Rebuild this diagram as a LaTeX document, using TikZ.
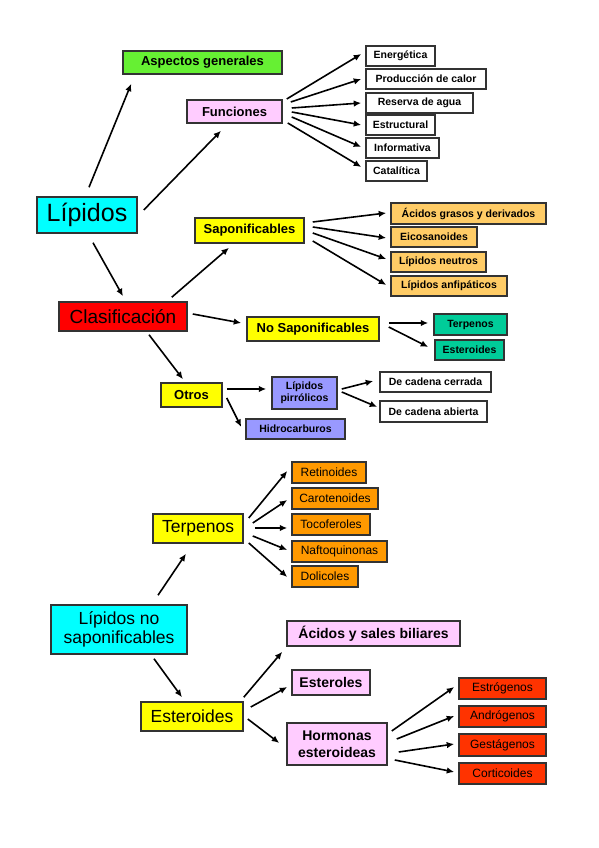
\documentclass[tikz,border=0pt]{standalone}
\usepackage{fontspec}
\setmainfont{Liberation Sans}
\usetikzlibrary{arrows.meta, positioning}
\usepackage{xcolor}

\definecolor{verde}{RGB}{102,240,51}
\definecolor{rosa}{RGB}{255,204,255}
\definecolor{cian}{RGB}{0,255,255}
\definecolor{rojo}{RGB}{255,0,0}
\definecolor{amarillo}{RGB}{255,255,0}
\definecolor{naranjaclaro}{RGB}{255,204,102}
\definecolor{turquesa}{RGB}{0,204,153}
\definecolor{lila}{RGB}{153,153,255}
\definecolor{naranja}{RGB}{255,153,0}
\definecolor{rojizo}{RGB}{255,51,0}

\begin{document}
\begin{tikzpicture}[
        x=1pt, y=1pt,
        caja/.style={rectangle, draw=black!80, line width=1.5pt, inner sep=1pt, align=center},
        chica/.style={caja, font=\fontsize{10.5}{12}\selectfont\bfseries, minimum height=20pt},
        media/.style={caja, font=\fontsize{13}{14.5}\selectfont\bfseries, minimum height=24pt},
        grande/.style={caja, font=\fontsize{17.5}{19.5}\selectfont},
        fina/.style={caja, font=\fontsize{12}{13.5}\selectfont, minimum height=21pt},
        arrow/.style={-{Latex[length=7.5pt,width=6.5pt]}, line width=1.6pt, draw=black}
    ]
    \useasboundingbox (0,0) rectangle (599,848);

    % Clasificacion general
    \node (lip) [caja, fill=cian, minimum width=100pt, minimum height=36pt, font=\fontsize{25}{27}\selectfont] at (87,633) {Lípidos};
    \node (asp) [media, fill=verde, minimum width=159pt, minimum height=23pt] at (202.5,785.5) {Aspectos generales};
    \node (fun) [media, fill=rosa, minimum width=95pt, minimum height=23pt] at (234.5,736.5) {Funciones};
    \node (cla) [caja, fill=rojo, minimum width=128pt, minimum height=29pt, font=\fontsize{19}{21}\selectfont] at (123,531.5) {Clasificación};
    \node (sap) [media, fill=amarillo, minimum width=109pt, minimum height=25pt] at (249.5,617.5) {Saponificables};
    \node (nosap) [media, fill=amarillo, minimum width=132pt] at (313,519) {No Saponificables};
    \node (otr) [media, fill=amarillo, minimum width=61pt] at (191.5,453) {Otros};
    \node (pir) [chica, fill=lila, minimum width=65pt, minimum height=32pt] at (304.5,455) {Lípidos\\pirrólicos};
    \node (hid) [chica, fill=lila, minimum width=99pt] at (295.5,419) {Hidrocarburos};

    % Funciones
    \node (ene) [chica, minimum width=69pt] at (400.5,792) {Energética};
    \node (pro) [chica, minimum width=120pt] at (426,769) {Producción de calor};
    \node (res) [chica, minimum width=107pt] at (419.5,745) {Reserva de agua};
    \node (est) [chica, minimum width=69pt] at (400.5,723) {Estructural};
    \node (inf) [chica, minimum width=73pt] at (402.5,700) {Informativa};
    \node (cat) [chica, minimum width=61pt] at (396.5,677) {Catalítica};

    % Saponificables y no saponificables
    \node (aci) [chica, fill=naranjaclaro, minimum width=155pt, minimum height=21pt] at (468.5,634.5) {Ácidos grasos y derivados};
    \node (eic) [chica, fill=naranjaclaro, minimum width=86pt] at (434,611) {Eicosanoides};
    \node (neu) [chica, fill=naranjaclaro, minimum width=95pt] at (438.5,586) {Lípidos neutros};
    \node (anf) [chica, fill=naranjaclaro, minimum width=116pt] at (449,562) {Lípidos anfipáticos};
    \node (ter) [chica, fill=turquesa, minimum width=73pt, minimum height=21pt] at (470.5,523.5) {Terpenos};
    \node (este) [chica, fill=turquesa, minimum width=69pt] at (469.5,498) {Esteroides};
    \node (cer) [chica, minimum width=111pt] at (435.5,466) {De cadena cerrada};
    \node (abi) [chica, minimum width=107pt, minimum height=21pt] at (433.5,436.5) {De cadena abierta};

    % Lipidos no saponificables
    \node (lns) [grande, fill=cian, minimum width=136pt, minimum height=49pt] at (119,218.5) {Lípidos no\\saponificables};
    \node (ter2) [grande, fill=amarillo, minimum width=90pt, minimum height=29pt] at (198,319.5) {Terpenos};
    \node (est2) [grande, fill=amarillo, minimum width=102pt, minimum height=29pt] at (192,131.5) {Esteroides};
    \node (ret) [fina, fill=naranja, minimum width=74pt] at (329,375.5) {Retinoides};
    \node (car) [fina, fill=naranja, minimum width=86pt] at (335,349.5) {Carotenoides};
    \node (toc) [fina, fill=naranja, minimum width=78pt] at (331,323.5) {Tocoferoles};
    \node (naf) [fina, fill=naranja, minimum width=95pt] at (339.5,296.5) {Naftoquinonas};
    \node (dol) [fina, fill=naranja, minimum width=66pt] at (325,271.5) {Dolicoles};
    \node (acs) [media, fill=rosa, minimum width=173pt, minimum height=25pt, font=\fontsize{14}{15.5}\selectfont\bfseries] at (373.5,214.5) {Ácidos y sales biliares};
    \node (esl) [media, fill=rosa, minimum width=78pt, minimum height=25pt, font=\fontsize{14}{15.5}\selectfont\bfseries] at (331,165.5) {Esteroles};
    \node (hor) [media, fill=rosa, minimum width=100pt, minimum height=42pt, font=\fontsize{14}{17}\selectfont\bfseries] at (337,104) {Hormonas\\esteroideas};
    \node (estr) [fina, fill=rojizo, minimum width=87pt] at (502.5,159.5) {Estrógenos};
    \node (andr) [fina, fill=rojizo, minimum width=87pt] at (502.5,131.5) {Andrógenos};
    \node (ges) [fina, fill=rojizo, minimum width=87pt, minimum height=22pt] at (502.5,103) {Gestágenos};
    \node (cor) [fina, fill=rojizo, minimum width=87pt] at (502.5,74.5) {Corticoides};

    % Flechas de Lipidos
    \draw [arrow] ([shift={(2,9)}]lip.north) -- ([shift={(9,-9)}]asp.south west);
    \draw [arrow] ([shift={(6,5)}]lip.east) -- ([shift={(-13.5,-7)}]fun.south);
    \draw [arrow] ([shift={(6,-9)}]lip.south) -- ([shift={(0,5)}]cla.north);

    % Flechas de Funciones
    \draw [arrow] ([shift={(4,12.5)}]fun.east) -- ([shift={(-4,2)}]ene.west);
    \draw [arrow] ([shift={(8,9.5)}]fun.east) -- ([shift={(-4,0)}]pro.west);
    \draw [arrow] ([shift={(9,3.5)}]fun.east) -- ([shift={(-4,0)}]res.west);
    \draw [arrow] ([shift={(9,-0.5)}]fun.east) -- ([shift={(-4,0)}]est.west);
    \draw [arrow] ([shift={(9,-5.5)}]fun.east) -- ([shift={(-4,1)}]inf.west);
    \draw [arrow] ([shift={(5,-11.5)}]fun.east) -- ([shift={(-4,4)}]cat.west);

    % Flechas de Clasificacion
    \draw [arrow] ([shift={(-16,4)}]cla.north east) -- ([shift={(-20.5,-4)}]sap.south);
    \draw [arrow] ([shift={(5,2.5)}]cla.east) -- ([shift={(-5,6)}]nosap.west);
    \draw [arrow] ([shift={(26,-3)}]cla.south) -- ([shift={(-8.5,3)}]otr.north);

    \draw [arrow] ([shift={(8,8.5)}]sap.east) -- ([shift={(-4,0.5)}]aci.west);
    \draw [arrow] ([shift={(8,3.5)}]sap.east) -- ([shift={(-4,-1)}]eic.west);
    \draw [arrow] ([shift={(8,-2.5)}]sap.east) -- ([shift={(-4,3)}]neu.west);
    \draw [arrow] ([shift={(8,-10.5)}]sap.east) -- ([shift={(-4,1)}]anf.west);

    \draw [arrow] ([shift={(9,6)}]nosap.east) -- ([shift={(-5,1.5)}]ter.west);
    \draw [arrow] ([shift={(9,2)}]nosap.east) -- ([shift={(-6,3)}]este.west);

    \draw [arrow] ([shift={(4,6)}]otr.east) -- ([shift={(-5,4)}]pir.west);
    \draw [arrow] ([shift={(4,-3)}]otr.east) -- ([shift={(-4,2)}]hid.west);
    \draw [arrow] ([shift={(4,4)}]pir.east) -- ([shift={(-6,1)}]cer.west);
    \draw [arrow] ([shift={(4,1)}]pir.east) -- ([shift={(-2,4.5)}]abi.west);

    % Flechas de Lipidos no saponificables
    \draw [arrow] ([shift={(39,9)}]lns.north) -- ([shift={(-12,-10)}]ter2.south);
    \draw [arrow] ([shift={(35,-4)}]lns.south) -- ([shift={(-10,4)}]est2.north);

    \draw [arrow] ([shift={(5,10.5)}]ter2.east) -- ([shift={(-4,1.5)}]ret.west);
    \draw [arrow] ([shift={(9,5.5)}]ter2.east) -- ([shift={(-4,-1.5)}]car.west);
    \draw [arrow] ([shift={(11,0.5)}]ter2.east) -- ([shift={(-4,-3.5)}]toc.west);
    \draw [arrow] ([shift={(9,-7.5)}]ter2.east) -- ([shift={(-4,1.5)}]naf.west);
    \draw [arrow] ([shift={(5,-14.5)}]ter2.east) -- ([shift={(-4,-0.5)}]dol.west);

    \draw [arrow] ([shift={(0,4)}]est2.north east) -- ([shift={(-4,-5)}]acs.south west);
    \draw [arrow] ([shift={(7,9.5)}]est2.east) -- ([shift={(-4,-4.5)}]esl.west);
    \draw [arrow] ([shift={(4,-2.5)}]est2.east) -- ([shift={(-7,1)}]hor.west);

    \draw [arrow] ([shift={(4,13)}]hor.east) -- ([shift={(-4,1.5)}]estr.west);
    \draw [arrow] ([shift={(9,5)}]hor.east) -- ([shift={(-4,0.5)}]andr.west);
    \draw [arrow] ([shift={(11,-8)}]hor.east) -- ([shift={(-4,1)}]ges.west);
    \draw [arrow] ([shift={(7,-16)}]hor.east) -- ([shift={(-4,1.5)}]cor.west);

\end{tikzpicture}
\end{document}
